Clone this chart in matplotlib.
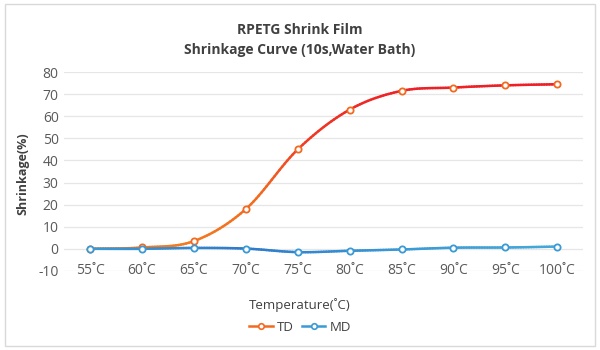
import numpy as np
import matplotlib
matplotlib.use("Agg")
import matplotlib.pyplot as plt
from matplotlib.patches import FancyBboxPatch
from matplotlib.collections import LineCollection
from matplotlib.colors import LinearSegmentedColormap
from matplotlib.lines import Line2D

categories = ["55˚C", "60˚C", "65˚C", "70˚C", "75˚C", "80˚C", "85˚C", "90˚C", "95˚C", "100˚C"]
td = [0.0, 0.6, 3.5, 18.0, 45.0, 63.0, 71.5, 73.0, 74.0, 74.5]
md = [0.0, 0.0, 0.4, 0.1, -1.5, -0.9, -0.3, 0.5, 0.6, 1.0]

plt.rcParams['font.family'] = ['Open Sans', 'DejaVu Sans']
plt.rcParams['axes.unicode_minus'] = False

def smooth(x, y, n=20):
    x = np.asarray(x, float); y = np.asarray(y, float)
    px = np.concatenate([[2*x[0]-x[1]], x, [2*x[-1]-x[-2]]])
    py = np.concatenate([[2*y[0]-y[1]], y, [2*y[-1]-y[-2]]])
    xs, ys = [], []
    t = np.linspace(0, 1, n, endpoint=False)
    for i in range(1, len(px)-2):
        f = lambda a0, a1, a2, a3: 0.5*((2*a1) + (-a0+a2)*t + (2*a0-5*a1+4*a2-a3)*t**2 + (-a0+3*a1-3*a2+a3)*t**3)
        xs.append(f(px[i-1], px[i], px[i+1], px[i+2])); ys.append(f(py[i-1], py[i], py[i+1], py[i+2]))
    xs.append([x[-1]]); ys.append([y[-1]])
    return np.concatenate(xs), np.concatenate(ys)

fig = plt.figure(figsize=(6, 3.5), dpi=100)
fig.patches.append(FancyBboxPatch((0.008, 0.012), 0.984, 0.976, boxstyle="square,pad=0",
                                  transform=fig.transFigure, fill=False, edgecolor="#d9d9d9", linewidth=1))
ax = fig.add_axes([0.107, 0.226, 0.865, 0.568])

x = np.arange(len(categories))
td_c = "#F26A21"
md_c = "#3A9AD5"

sx, sy = smooth(x, td)
pts = np.column_stack([sx, sy]).reshape(-1, 1, 2)
segs = np.concatenate([pts[:-1], pts[1:]], axis=1)
cmap = LinearSegmentedColormap.from_list("tdgrad", ["#F47A1F", "#F26A21", "#F03A24", "#EE1F26"])
lc = LineCollection(segs, cmap=cmap, norm=plt.Normalize(0, 75), linewidths=1.8, zorder=3, capstyle="round")
lc.set_array((sy[:-1] + sy[1:]) / 2)
ax.add_collection(lc)
ax.plot(x, td, ls="none", marker="o", ms=4.5, mfc="white", mec=td_c, mew=1.3, zorder=4)

sx, sy = smooth(x, md)
pts = np.column_stack([sx, sy]).reshape(-1, 1, 2)
segs = np.concatenate([pts[:-1], pts[1:]], axis=1)
cmap2 = LinearSegmentedColormap.from_list("mdgrad", ["#3A9AD5", "#2F7ACB", "#3A9AD5", "#45A8DA"])
lc2 = LineCollection(segs, cmap=cmap2, norm=plt.Normalize(0, len(x)-1), linewidths=1.8, zorder=3, capstyle="round")
lc2.set_array((sx[:-1] + sx[1:]) / 2)
ax.add_collection(lc2)
ax.plot(x, md, ls="none", marker="o", ms=4.5, mfc="white", mec=md_c, mew=1.3, zorder=4)

ax.set_xlim(-0.5, len(categories)-0.5)
ax.set_ylim(-10, 80)
ax.set_yticks(range(-10, 81, 10))
ax.set_xticks(x)
ax.set_xticklabels(categories)
ax.grid(axis="y", color="#e6e6e6", lw=0.9)
ax.set_axisbelow(True)
for s in ax.spines.values():
    s.set_visible(False)
ax.tick_params(length=0, labelsize=10, colors="#595959", pad=4)
ax.tick_params(axis="x", pad=-6)

fig.text(0.5, 0.913, "RPETG Shrink Film", ha="center", va="center", fontsize=10, fontweight="bold", color="#404040")
fig.text(0.5, 0.856, "Shrinkage Curve (10s,Water Bath)", ha="center", va="center", fontsize=10, fontweight="bold", color="#404040")
fig.text(0.038, 0.505, "Shrinkage(%)", rotation=90, ha="center", va="center", fontsize=9, fontweight="bold", color="#404040")
fig.text(0.5, 0.128, "Temperature(˚C)", ha="center", va="center", fontsize=9.5, color="#404040")

h1 = Line2D([], [], color=td_c, lw=1.8, marker="o", ms=4, mfc="white", mec=td_c, mew=1.2)
h2 = Line2D([], [], color=md_c, lw=1.8, marker="o", ms=4, mfc="white", mec=md_c, mew=1.2)
fig.legend([h1, h2], ["TD", "MD"], loc="center", bbox_to_anchor=(0.5, 0.065), ncol=2, frameon=False,
           fontsize=9.5, handlelength=1.8, columnspacing=0.6, handletextpad=0.3, labelcolor="#404040")

fig.savefig("out.png", dpi=100)
